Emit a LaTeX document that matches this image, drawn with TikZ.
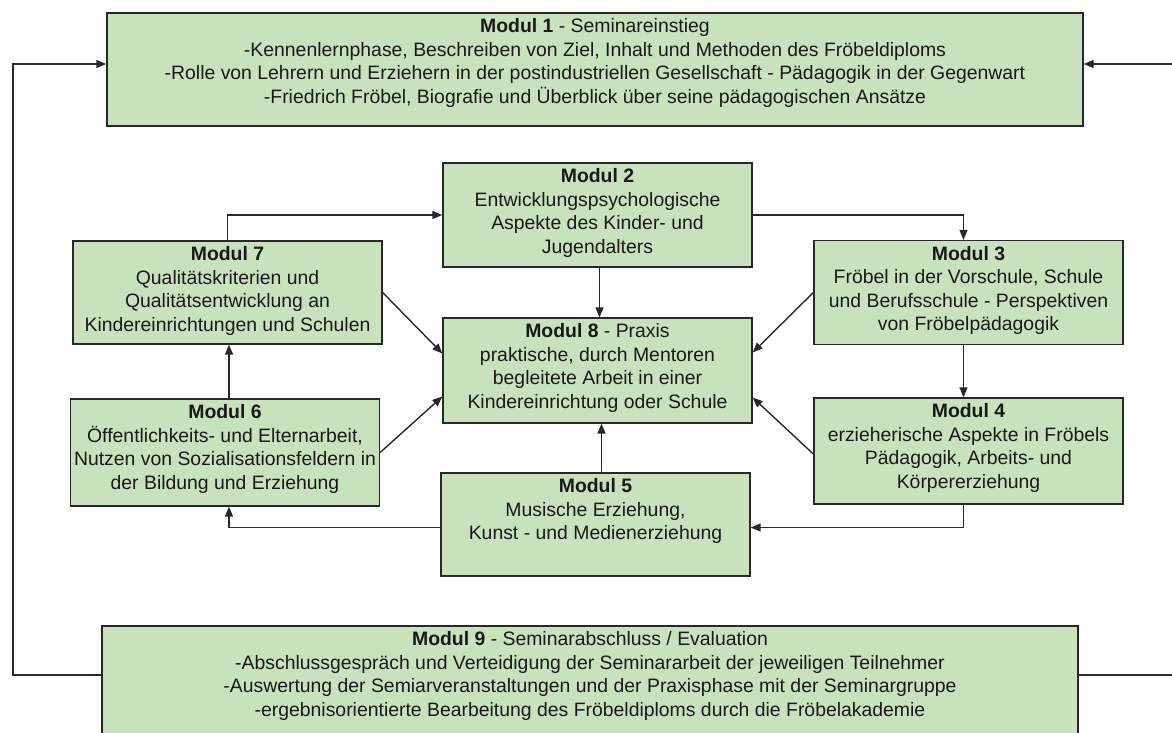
\documentclass[tikz,border=0pt]{standalone}
\usepackage{fontspec}
\setmainfont{Liberation Sans}
\usepackage{xcolor}
\usepackage{tikz}
\usetikzlibrary{positioning,arrows.meta}

\definecolor{modgreen}{RGB}{199,226,189}
\definecolor{modline}{RGB}{40,40,40}

\tikzset{
	modbox/.style={draw=modline,fill=modgreen,line width=1.3pt,inner sep=0pt,minimum width=309pt,minimum height=104pt},
	modtext/.style={align=center,inner sep=0pt,text=black!90,font=\fontsize{19.4}{23.6}\selectfont},
	link/.style={->,draw=modline,line width=1.4pt},
}

\begin{document}
\begin{tikzpicture}[x=1pt,y=-1pt,>={Triangle[length=10pt,width=8pt]}]
	\useasboundingbox (0,0) rectangle (1172,733);
	\clip (0,0) rectangle (1172,733);

	% boxes
	\node[modbox,minimum width=976pt,minimum height=113pt] (m1) at (595,69.5) {};
	\node[modbox] (m2) at (597.5,215) {};
	\node[modbox] (m3) at (968.5,292.5) {};
	\node[modbox,minimum height=106pt] (m4) at (968.5,451) {};
	\node[modbox,minimum height=103pt] (m5) at (595.5,524.5) {};
	\node[modbox,minimum height=107pt] (m6) at (225,452.5) {};
	\node[modbox,minimum height=103pt] (m7) at (227.5,292.5) {};
	\node[modbox,minimum height=105pt] (m8) at (597.5,370.5) {};
	\node[modbox,minimum width=976pt,minimum height=128pt] (m9) at (590,690) {};

	% texts
	\node[modtext,below=6pt of m1.north] (m1txt) {\textbf{Modul 1} - Seminareinstieg\\
		-Kennenlernphase, Beschreiben von Ziel, Inhalt und Methoden des Fröbeldiploms\\
		-Rolle von Lehrern und Erziehern in der postindustriellen Gesellschaft - Pädagogik in der Gegenwart\\
		-Friedrich Fröbel, Biografie und Überblick über seine pädagogischen Ansätze};
	\node[modtext,below=6pt of m2.north] (m2txt) {\textbf{Modul 2}\\Entwicklungspsychologische\\Aspekte des Kinder- und\\Jugendalters};
	\node[modtext,below=6pt of m3.north] (m3txt) {\textbf{Modul 3}\\Fröbel in der Vorschule, Schule\\und Berufsschule - Perspektiven\\von Fröbelpädagogik};
	\node[modtext,below=6pt of m4.north] (m4txt) {\textbf{Modul 4}\\erzieherische Aspekte in Fröbels\\Pädagogik, Arbeits- und\\Körpererziehung};
	\node[modtext,below=6pt of m5.north] (m5txt) {\textbf{Modul 5}\\Musische Erziehung,\\Kunst - und Medienerziehung};
	\node[modtext,below=6pt of m6.north] (m6txt) {\textbf{Modul 6}\\Öffentlichkeits- und Elternarbeit,\\Nutzen von Sozialisationsfeldern in\\der Bildung und Erziehung};
	\node[modtext,below=6pt of m7.north] (m7txt) {\textbf{Modul 7}\\Qualitätskriterien und\\Qualitätsentwicklung an\\Kindereinrichtungen und Schulen};
	\node[modtext,below=6pt of m8.north] (m8txt) {\textbf{Modul 8} - Praxis\\praktische, durch Mentoren\\begleitete Arbeit in einer\\Kindereinrichtung oder Schule};
	\node[modtext,below=6pt of m9.north] (m9txt) {\textbf{Modul 9} - Seminarabschluss / Evaluation\\
		-Abschlussgespräch und Verteidigung der Seminararbeit der jeweiligen Teilnehmer\\
		-Auswertung der Semiarveranstaltungen und der Praxisphase mit der Seminargruppe\\
		-ergebnisorientierte Bearbeitung des Fröbeldiploms durch die Fröbelakademie};

	% loop from Modul 9 back to Modul 1
	\coordinate (loopTL) at (13,64);
	\coordinate (loopBL) at (13,675);
	\coordinate (loopTR) at (1190,64);
	\coordinate (loopBR) at (1190,675);
	\draw[link] (m9.west |- loopBL) -- (loopBL) -- (loopTL) -- (m1.west |- loopTL);
	\draw[link] (m9.east |- loopBR) -- (loopBR) -- (loopTR) -- (m1.east |- loopTR);

	% ring of moduls
	\draw[link] (m7.north) |- (m2.west);
	\draw[link] (m2.east) -| ([xshift=-5pt]m3.north);
	\draw[link] ([xshift=-5pt]m3.south) -- ([xshift=-5pt]m4.north);
	\draw[link] ([xshift=-5pt]m4.south) |- ([yshift=-3pt]m5.east);
	\draw[link] ([yshift=-3pt]m5.west) -| ([xshift=4pt]m6.south);
	\draw[link] ([xshift=4pt]m6.north) -- ([xshift=1.5pt]m7.south);

	% into Modul 8
	\draw[link] ([xshift=2pt]m2.south) -- ([xshift=2pt]m8.north);
	\draw[link] ([xshift=6pt]m5.north) -- ([xshift=4pt]m8.south);
	\draw[link] (m7.east) -- ([yshift=17pt]m8.west);
	\draw[link] (m3.west) -- ([yshift=18pt]m8.east);
	\draw[link] (m6.east) -- ([yshift=-26pt]m8.west);
	\draw[link] ([yshift=-3pt]m4.west) -- ([yshift=-27pt]m8.east);
\end{tikzpicture}
\end{document}
